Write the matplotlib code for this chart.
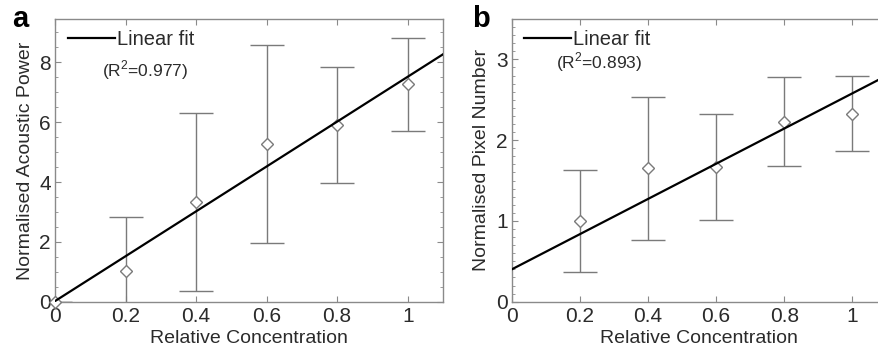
import numpy as np
import matplotlib
matplotlib.use('Agg')
import matplotlib.pyplot as plt
from matplotlib.ticker import MultipleLocator

plt.rcParams['font.family'] = ['Liberation Sans', 'DejaVu Sans']
plt.rcParams['mathtext.fontset'] = 'custom'
plt.rcParams['mathtext.rm'] = 'Liberation Sans'

# panel a: acoustic power
conc_a = [0.0, 0.2, 0.4, 0.6, 0.8, 1.0]
power = [0.0, 1.04, 3.34, 5.26, 5.90, 7.27]
power_err = [0.0, 1.79, 2.98, 3.31, 1.93, 1.56]
fit_a = (7.5, 0.02)      # slope, intercept
r2_a = 0.977

# panel b: pixel number
conc_b = [0.2, 0.4, 0.6, 0.8, 1.0]
pixels = [1.00, 1.65, 1.67, 2.23, 2.33]
pixels_err = [0.63, 0.88, 0.66, 0.55, 0.47]
fit_b = (2.18, 0.40)
r2_b = 0.893

W, H = 879, 354
fig = plt.figure(figsize=(W / 100, H / 100), dpi=100)

text_col = '#2b2b2b'
grey = '#7a7a7a'
spine_col = '#8a8a8a'


def px_ax(left, right, top=19, bottom=301.7):
    return fig.add_axes([left / W, (H - bottom) / H, (right - left) / W, (bottom - top) / H])


def panel(ax, x, y, err, fit, r2, ylabel, ymax, ymaj, ymin, letter, letter_x, r2_pos):
    ax.errorbar(x, y, yerr=err, fmt='none', ecolor=grey, elinewidth=1.0,
                capsize=12.3, capthick=1.0, zorder=2)
    ax.plot(x, y, 'D', ms=6.5, mfc='white', mec=grey, mew=1.0, ls='none',
            zorder=3, clip_on=False)
    xf = np.array([0, 1.1])
    ax.plot(xf, fit[0] * xf + fit[1], color='black', lw=1.6, label='Linear fit', zorder=4)

    ax.set_xlim(0, 1.1)
    ax.set_ylim(0, ymax)
    ax.set_xticks([0, 0.2, 0.4, 0.6, 0.8, 1.0])
    ax.set_xticklabels(['0', '0.2', '0.4', '0.6', '0.8', '1'])
    ax.yaxis.set_major_locator(MultipleLocator(ymaj))
    ax.yaxis.set_minor_locator(MultipleLocator(ymin))
    ax.tick_params(which='both', direction='in', top=True, right=True,
                   color=spine_col, labelcolor=text_col, labelsize=15)
    ax.tick_params(which='major', length=4)
    ax.tick_params(axis='x', which='major', pad=4)
    ax.tick_params(axis='y', which='major', pad=3)
    ax.tick_params(which='minor', length=2)
    for s in ax.spines.values():
        s.set_color(spine_col)
        s.set_linewidth(1.0)
    ax.set_xlabel('Relative Concentration', fontsize=14, color=text_col, labelpad=3)
    ax.set_ylabel(ylabel, fontsize=14, color=text_col, labelpad=4)

    leg = ax.legend(loc='upper left', bbox_to_anchor=(0.034, 0.96), frameon=False,
                    fontsize=14.5, handlelength=2.3, handletextpad=0.1,
                    borderpad=0, borderaxespad=0)
    for t in leg.get_texts():
        t.set_color(text_col)
    ax.text(r2_pos[0], r2_pos[1], r'(R$^{\mathregular{2}}$=%.3f)' % r2, transform=ax.transAxes,
            ha='center', va='center', fontsize=12.5, color=text_col)
    fig.text(letter_x / W, (H - 27) / H, letter, fontsize=21, fontweight='bold',
             color='black', ha='left', va='baseline')


ax_a = px_ax(55, 443)
panel(ax_a, conc_a, power, power_err, fit_a, r2_a, 'Normalised Acoustic Power',
      9.45, 2, 0.5, 'a', 12, (0.231, 0.82))

ax_b = px_ax(511.7, 886.5)
panel(ax_b, conc_b, pixels, pixels_err, fit_b, r2_b, 'Normalised Pixel Number',
      3.5, 1, 0.1, 'b', 472, (0.233, 0.846))

fig.savefig('out.png', dpi=100)
